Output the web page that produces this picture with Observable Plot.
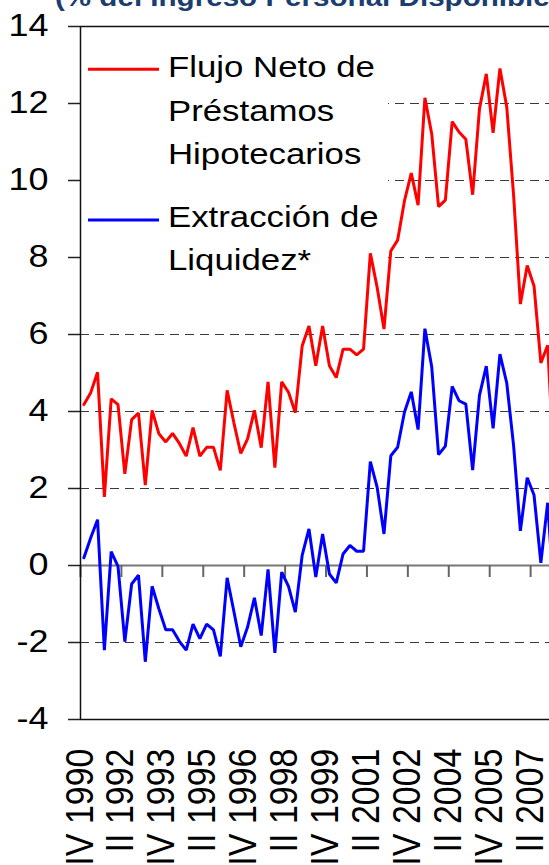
<!DOCTYPE html>
<html>
<head>
<meta charset="utf-8">
<script src="https://cdn.jsdelivr.net/npm/d3@7"></script>
<script src="https://cdn.jsdelivr.net/npm/@observablehq/plot@0.6"></script>
<style>
  html, body { margin: 0; padding: 0; background: white; }
  #wrap { position: relative; width: 549px; height: 865px; overflow: hidden; background: white; }
  #title { position: absolute; left: 55px; top: -16px; font: bold 25.5px/26px "Liberation Sans", Arial, sans-serif;
           color: #1B3D70; white-space: nowrap; transform: scaleX(1.16); transform-origin: 0 0; z-index: 2; }
</style>
</head>
<body>
<div id="wrap">
  <div id="title">(% del Ingreso Personal Disponible)</div>
  <div id="chart"></div>
</div>
<script>
// Quarterly series, first point = IV 1990
const flujo = [4.18, 4.49, 5.02, 1.78, 4.33, 4.18, 2.38, 3.79, 3.96, 2.09,
               4.03, 3.42, 3.21, 3.43, 3.17, 2.84, 3.58, 2.84, 3.07, 3.07,
               2.47, 4.55, 3.70, 2.91, 3.29, 4.03, 3.06, 4.77, 2.54, 4.77,
               4.50, 3.97, 5.70, 6.22, 5.19, 6.22, 5.19, 4.88, 5.62, 5.62,
               5.47, 5.62, 8.11, 7.22, 6.14, 8.17, 8.45, 9.47, 10.19, 9.36,
               12.15, 11.21, 9.32, 9.49, 11.53, 11.26, 11.07, 9.63, 11.86, 12.77,
               11.24, 12.91, 11.91, 9.63, 6.79, 7.79, 7.26, 5.26, 5.72, 2.3];
const extraccion = [0.20, 0.72, 1.19, -2.20, 0.36, -0.02, -1.98, -0.48, -0.25, -2.50,
               -0.54, -1.13, -1.67, -1.67, -1.97, -2.20, -1.52, -1.90, -1.52, -1.67,
               -2.36, -0.32, -1.20, -2.11, -1.60, -0.84, -1.82, -0.10, -2.27, -0.17,
               -0.54, -1.21, 0.26, 0.95, -0.30, 0.82, -0.22, -0.45, 0.30, 0.52,
               0.37, 0.37, 2.70, 2.03, 0.82, 2.85, 3.07, 3.98, 4.51, 3.53,
               6.15, 5.16, 2.88, 3.10, 4.65, 4.28, 4.19, 2.48, 4.42, 5.18,
               3.56, 5.49, 4.74, 3.12, 0.90, 2.28, 1.83, 0.07, 1.63, -1.0];
const tickLabels = ["IV 1990", "II 1992", "IV 1993", "II 1995", "IV 1996", "II 1998",
                    "IV 1999", "II 2001", "IV 2002", "II 2004", "IV 2005", "II 2007"];
const yTicks = [-4, -2, 0, 2, 4, 6, 8, 10, 12, 14];
const seriesNames = ["Flujo Neto de\nPréstamos\nHipotecarios", "Extracción de\nLiquidez*"];
const seriesColors = ["#FF0000", "#0000FF"];

const N = flujo.length;
const labelEvery = 6;
const rows = flujo.map((v, i) => ({i, flujo: v, extraccion: extraccion[i]}));
const labelIdx = tickLabels.map((_, k) => k * labelEvery);
const boundaries = d3.range(0, N, labelEvery).map(k => k - 0.5);

const plotTop = 26, plotBottom = 719, plotLeft = 80, step = 6.82;
const tickLenUnits = 12 / ((plotBottom - plotTop) / (yTicks[yTicks.length - 1] - yTicks[0]));
const font = "'Liberation Sans', Arial, sans-serif";

const chart = Plot.plot({
  width: 549, height: 865,
  marginLeft: plotLeft, marginTop: plotTop, marginBottom: 865 - plotBottom, marginRight: 0,
  x: {type: "linear", domain: [-0.5, N - 0.5], range: [plotLeft, plotLeft + N * step], label: null},
  y: {domain: [-4, 14], range: [plotBottom, plotTop], label: null},
  style: {fontFamily: font, background: "white", color: "black"},
  marks: [
    Plot.ruleY(yTicks.filter(d => d !== 0 && d !== 14 && d !== -4), {stroke: "#3a3a3a", strokeWidth: 1, strokeDasharray: "9,6"}),
    Plot.ruleY([14, -4], {stroke: "#111", strokeWidth: 1.5}),
    Plot.ruleY([0], {stroke: "#777", strokeWidth: 2}),
    Plot.ruleX(boundaries, {x: d => d, y1: 0, y2: -tickLenUnits, stroke: "#666", strokeWidth: 2}),
    Plot.axisY({ticks: yTicks, tickSize: 12, tickPadding: 20, fontSize: 31, tickFormat: d => String(d), stroke: "#222", strokeWidth: 1.5, label: null}),
    Plot.axisX({ticks: labelIdx, tickFormat: d => tickLabels[d / labelEvery], tickRotate: -90, tickSize: 0, tickPadding: 29, fontSize: 34, dx: -4, label: null}),
    Plot.ruleX([-0.5], {stroke: "#111", strokeWidth: 1.5}),
    Plot.lineY(rows, {x: "i", y: "flujo", stroke: seriesColors[0], strokeWidth: 3, strokeLinejoin: "miter"}),
    Plot.lineY(rows, {x: "i", y: "extraccion", stroke: seriesColors[1], strokeWidth: 3, strokeLinejoin: "miter"})
  ]
});

// horizontal stretch of the original picture's text
function stretch(sel, sx, sy) {
  chart.querySelectorAll(sel).forEach(t => {
    const tr = t.getAttribute("transform") || "";
    t.setAttribute("transform", tr + ` scale(${sx},${sy})`);
  });
}
stretch('g[aria-label="y-axis tick label"] text', 1.16, 1);
stretch('g[aria-label="x-axis tick label"] text', 1, 1.16);

// legend box (covers grid, under the lines)
const svg = d3.select(chart);
const grid = chart.querySelectorAll('g[aria-label="rule"]')[0];
if (grid) {
  const box = document.createElementNS("http://www.w3.org/2000/svg", "rect");
  box.setAttribute("x", 81); box.setAttribute("y", 29);
  box.setAttribute("width", 307); box.setAttribute("height", 301);
  box.setAttribute("fill", "white");
  grid.parentNode.insertBefore(box, grid.nextSibling);
}

const lg = svg.append("g").attr("font-family", font).attr("font-size", 30).attr("fill", "black").attr("text-anchor", "start");
const entries = [{y: 69.3, base: 77.3}, {y: 220, base: 226.7}];
seriesNames.forEach((name, k) => {
  const e = entries[k];
  lg.append("line").attr("x1", 88).attr("x2", 159).attr("y1", e.y).attr("y2", e.y)
    .attr("stroke", seriesColors[k]).attr("stroke-width", 3);
  name.split("\n").forEach((line, j) => {
    lg.append("text").attr("text-anchor", "start").attr("transform", `translate(168,${e.base + j * 43.5}) scale(1.16,1)`).text(line);
  });
});

document.getElementById("chart").appendChild(chart);
</script>
</body>
</html>
